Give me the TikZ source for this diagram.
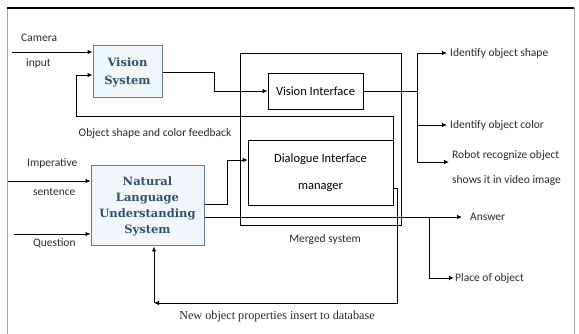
\documentclass[tikz,border=0pt]{standalone}
\usepackage{fontspec}
\setmainfont{Carlito}
\newfontfamily\boxserif{DejaVu Serif}
\newfontfamily\capserif{Liberation Serif}
\usetikzlibrary{arrows.meta}
\definecolor{boxfill}{HTML}{F1F6FB}
\definecolor{boxline}{HTML}{5A7EA4}
\definecolor{boxtext}{HTML}{34506F}
\definecolor{lbl}{HTML}{2A2A2A}
\tikzset{
  arr/.style={-{Latex[length=5pt,width=4.5pt]}},
  conn/.style={line width=0.8pt,black},
  sysbox/.style={draw=boxline,line width=1pt,fill=boxfill,inner sep=0pt,align=center,
    font=\boxserif\bfseries\fontsize{11.5}{16}\selectfont,text=boxtext},
  plainbox/.style={draw=black,line width=0.8pt,inner sep=0pt,align=center,
    font=\fontsize{12.5}{27}\selectfont},
  lab/.style={inner sep=0pt,text=lbl,font=\fontsize{11.5}{25}\selectfont,align=left},
}
\begin{document}
\begin{tikzpicture}[x=1pt,y=-1pt]
\useasboundingbox (0,0) rectangle (579,334);
% outer frame
\draw[gray!70,line width=0.8pt] (7,334) -- (7,8);
\draw[gray!70,line width=0.8pt] (574,8) -- (574,334);
\draw[black,line width=1.3pt] (7,8) -- (574,8);

% merged system box
\node[draw=black,line width=0.8pt,minimum width=161,minimum height=172,inner sep=0pt] (merged) at (320.5,139) {};
\node[lab] (mergedlbl) at (325,239) {Merged system};

% boxes
\node[sysbox,minimum width=69,minimum height=52] (vs) at (127.5,72) {Vision\\[2pt]System};
\node[sysbox,minimum width=113,minimum height=80] (nlu) at (147.5,206) {Natural\\Language\\Understanding\\System};
\node[plainbox,fill=white,minimum width=95,minimum height=36] (vi) at (315.5,91) {Vision Interface};
\node[plainbox,fill=white,minimum width=145,minimum height=65] (dlg) at (320.5,172.5) {Dialogue Interface\\manager};

% left labels
\node[lab,anchor=west] (camlbl) at (21,38) {Camera};
\node[lab,anchor=west] (inplbl) at (26,63) {input};
\node[lab] (fblbl) at (155,133) {Object shape and color feedback};
\node[lab,anchor=west] (implbl) at (27,163) {Imperative};
\node[lab,anchor=west] (senlbl) at (33,192) {sentence};
\node[lab,anchor=west] (queslbl) at (33,243) {Question};
\node[inner sep=0pt,font=\capserif\fontsize{12.2}{14}\selectfont,text=lbl] (dblbl) at (277,317) {New object properties insert to database};

% right labels
\node[lab,anchor=west] (t1) at (450,53) {Identify object shape};
\node[lab,anchor=west] (t2) at (450,125) {Identify object color};
\node[lab,anchor=west,font=\fontsize{11.5}{25}\selectfont] (t3) at (452,167.5) {Robot recognize object\\shows it in video image};
\node[lab,anchor=west] (ans) at (470,217) {Answer};
\node[lab,anchor=west] (place) at (455,278) {Place of object};

% coordinates
\coordinate (cam) at (12,52);
\coordinate (imp) at (8,181);
\coordinate (ques) at (14,234);
\coordinate (fb) at (76,116);
\coordinate (b1) at (417,53);
\coordinate (b3) at (417,162);
\coordinate (b2) at (417,125);
\coordinate (pj) at (429,217);
\coordinate (dbc) at (154,303);

% inputs
\draw[conn,arr] (cam) -- (cam -| vs.west);
\draw[conn,arr] (imp) -- (imp -| nlu.west);
\draw[conn,arr] (ques) -- (ques -| nlu.west);

% feedback
\draw[conn,arr] ([yshift=10.5pt]dlg.east) |- (fb) |- ([yshift=-3pt]vs.west);

% vision system -> vision interface
\draw[conn,arr] (vs.east) -- ++(52,0) |- (vi.west);

% vision interface outputs
\draw[conn] (vi.east) -- (vi.east -| b1);
\draw[conn] (b1) -- (b3);
\draw[conn,arr] (b1) -- ([xshift=-3pt]t1.west);
\draw[conn,arr] (b2) -- ([xshift=-3pt]t2.west);
\draw[conn,arr] (b3) -- ([xshift=-3pt]b3 -| t3.west);

% NLU -> dialogue
\draw[conn,arr] ([yshift=2pt]nlu.east) -- ++(23,0) |- ([yshift=12.5pt]dlg.west);

% NLU -> answer, place
\draw[conn,arr] ([yshift=-11pt]nlu.east) -- ([xshift=-8pt]ans.west);
\draw[conn,arr] (pj) |- ([xshift=-1pt]place.west);

% database feedback
\draw[conn,arr] ([yshift=-15.5pt]dlg.east) -- ++(4,0) |- (dbc);
\draw[conn,arr] (dbc) -- (dbc |- nlu.south);
\end{tikzpicture}
\end{document}
